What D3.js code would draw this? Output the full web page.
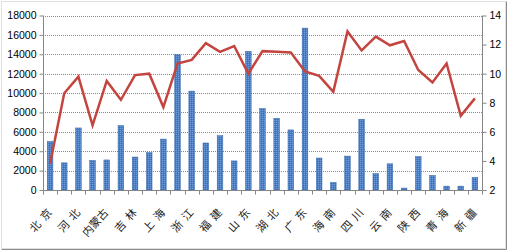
<!DOCTYPE html>
<html>
<head>
<meta charset="utf-8">
<script src="https://cdn.jsdelivr.net/npm/d3@7"></script>
<style>
  body { margin: 0; background: #fff; }
  svg { display: block; }
</style>
</head>
<body>
<svg id="chart"></svg>
<script>
var provinces = ["北京", "天津", "河北", "山西", "内蒙古", "辽宁", "吉林", "黑龙江", "上海", "江苏",
    "浙江", "安徽", "福建", "江西", "山东", "河南", "湖北", "湖南", "广东", "广西",
    "海南", "重庆", "四川", "贵州", "云南", "西藏", "陕西", "甘肃", "青海", "宁夏", "新疆"];
// shown under the axis (every other province, two-char names padded)
var axisLabels = ["北  京", "河  北", "内蒙古", "吉  林", "上  海", "浙  江", "福  建", "山  东",
    "湖  北", "广  东", "海  南", "四  川", "云  南", "陕  西", "青  海", "新  疆"];
var barValues = [5000, 2800, 6400, 3050, 3100, 6650, 3400, 3850, 5250, 13950,
    10200, 4850, 5600, 3000, 14300, 8400, 7400, 6200, 16700, 3300,
    780, 3500, 7300, 1700, 2700, 200, 3450, 1500, 400, 400, 1300];
var lineValues = [3.8, 8.65, 9.8, 6.45, 9.5, 8.2, 9.9, 10.0, 7.7, 10.7,
    10.95, 12.1, 11.5, 11.9, 10.0, 11.55, 11.5, 11.45, 10.15, 9.85,
    8.75, 12.9, 11.6, 12.55, 11.95, 12.25, 10.25, 9.4, 10.7, 7.1, 8.3];
var leftTicks = d3.range(0, 18001, 2000);
var rightTicks = [2, 4, 6, 8, 10, 12, 14];

var width = 508, height = 251;
var plotLeft = 43, plotRight = 482, plotTop = 15.5, plotBottom = 190;

var svg = d3.select("#chart").attr("width", width).attr("height", height);

var defs = svg.append("defs");
var pat = defs.append("pattern")
    .attr("id", "barfill")
    .attr("width", 2).attr("height", 2)
    .attr("patternUnits", "userSpaceOnUse");
pat.append("rect").attr("width", 2).attr("height", 2).attr("fill", "#4b7ec2");
pat.append("rect").attr("width", 1).attr("height", 1).attr("fill", "#6e9cd8");
pat.append("rect").attr("x", 1).attr("y", 1).attr("width", 1).attr("height", 1).attr("fill", "#3f6fb2");

// outer frame
svg.append("rect")
    .attr("x", 1.5).attr("y", 1.5)
    .attr("width", 504).attr("height", 247)
    .attr("fill", "none")
    .attr("stroke", "#c0c0c0")
    .attr("stroke-dasharray", "1,1");
svg.append("path")
    .attr("d", "M506.5,1.5V249.5H1.5")
    .attr("fill", "none")
    .attr("stroke", "#8c8c8c");

var x = d3.scaleBand().domain(provinces).range([plotLeft, plotRight]);
var yL = d3.scaleLinear().domain([0, 18000]).range([plotBottom, plotTop]);
var yR = d3.scaleLinear().domain([2, 14]).range([plotBottom, plotTop]);

// grid
svg.append("g")
    .selectAll("line")
    .data(leftTicks.filter(d => d > 0))
    .enter().append("line")
    .attr("x1", plotLeft).attr("x2", plotRight)
    .attr("y1", d => Math.round(yL(d)) + 0.5)
    .attr("y2", d => Math.round(yL(d)) + 0.5)
    .attr("stroke", "#8a8a8a")
    .attr("stroke-dasharray", "1,1");

// bars
var bw = x.bandwidth() * 0.4;
svg.append("g")
    .selectAll("rect")
    .data(provinces)
    .enter().append("rect")
    .attr("x", d => x(d) + x.bandwidth() / 2 - bw / 2)
    .attr("y", (d, i) => yL(barValues[i]))
    .attr("width", bw)
    .attr("height", (d, i) => plotBottom - yL(barValues[i]))
    .attr("fill", "url(#barfill)")
    .attr("stroke", "#3a66a6")
    .attr("stroke-width", 0.5);

// line
var line = d3.line()
    .x((d, i) => x(provinces[i]) + x.bandwidth() / 2)
    .y(d => yR(d));
svg.append("path")
    .datum(lineValues)
    .attr("d", line)
    .attr("fill", "none")
    .attr("stroke", "#c4443f")
    .attr("stroke-width", 2.5)
    .attr("stroke-linejoin", "miter");

// axes
var axisColor = "#868686";
var gL = svg.append("g")
    .attr("transform", "translate(" + (plotLeft + 0.5) + ",0)")
    .call(d3.axisLeft(yL).tickValues(leftTicks).tickSize(4).tickPadding(3).tickFormat(d3.format("d")));
var gR = svg.append("g")
    .attr("transform", "translate(" + (plotRight + 0.5) + ",0)")
    .call(d3.axisRight(yR).tickValues(rightTicks).tickSize(4).tickPadding(3));
[gL, gR].forEach(g => {
    g.select(".domain").attr("stroke", axisColor).attr("d", "M0," + plotTop + "V" + plotBottom);
    g.selectAll(".tick line").attr("stroke", axisColor);
    g.selectAll(".tick text")
        .attr("fill", "#000")
        .style("font-family", "'Liberation Sans', Arial, sans-serif")
        .style("font-size", "10.5px");
});

// x axis
var gX = svg.append("g").attr("transform", "translate(0," + (plotBottom + 0.5) + ")");
gX.append("line")
    .attr("x1", plotLeft).attr("x2", plotRight)
    .attr("stroke", axisColor);
gX.selectAll(".xt")
    .data(provinces.concat(["end"]))
    .enter().append("line")
    .attr("class", "xt")
    .attr("x1", (d, i) => Math.round(i < provinces.length ? x(d) : plotRight) + 0.5)
    .attr("x2", (d, i) => Math.round(i < provinces.length ? x(d) : plotRight) + 0.5)
    .attr("y1", 0).attr("y2", 4)
    .attr("stroke", axisColor);

var labelled = provinces.filter((d, i) => i % 2 === 0);
svg.append("g")
    .selectAll("text")
    .data(labelled)
    .enter().append("text")
    .attr("transform", d => "translate(" + (x(d) + x.bandwidth() / 2 + 2.5) + ",213) rotate(-48)")
    .attr("text-anchor", "end")
    .style("white-space", "pre")
    .style("font-family", "'Noto Sans CJK SC', sans-serif")
    .style("font-size", "11px")
    .attr("fill", "#222")
    .text((d, i) => axisLabels[i]);
</script>
</body>
</html>
